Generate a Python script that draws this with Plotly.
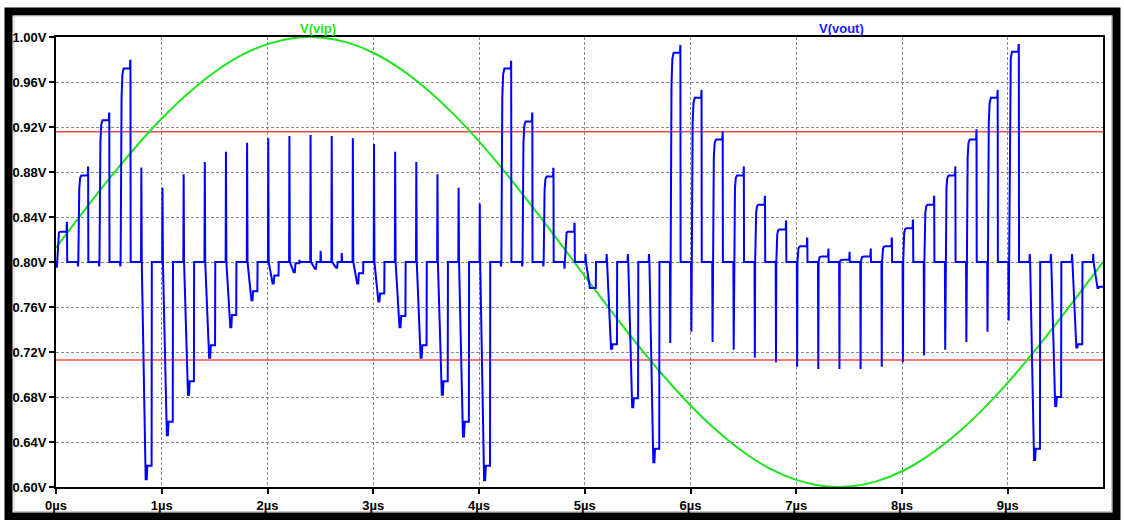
import plotly.graph_objects as go

# ---------------------------------------------------------------------------
# Waveform data (time in µs, voltages in V)
# ---------------------------------------------------------------------------

# V(vip): sinusoidal input, sampled every 0.25 µs
vip_time = [0.0, 0.25, 0.5, 0.75, 1.0, 1.25, 1.5, 1.75, 2.0, 2.25,
            2.5, 2.75, 3.0, 3.25, 3.5, 3.75, 4.0, 4.25, 4.5, 4.75,
            5.0, 5.25, 5.5, 5.75, 6.0, 6.25, 6.5, 6.75, 7.0, 7.25,
            7.5, 7.75, 8.0, 8.25, 8.5, 8.75, 9.0, 9.25, 9.5, 9.75, 9.9]
vip_volt = [0.8126, 0.8436, 0.8736, 0.9018, 0.9275, 0.9500, 0.9689, 0.9836, 0.9937, 0.9991,
            0.9996, 0.9952, 0.9860, 0.9721, 0.9541, 0.9323, 0.9072, 0.8794, 0.8497, 0.8188,
            0.7874, 0.7564, 0.7264, 0.6982, 0.6725, 0.6500, 0.6311, 0.6164, 0.6063, 0.6009,
            0.6004, 0.6048, 0.6140, 0.6279, 0.6459, 0.6677, 0.6928, 0.7206, 0.7503, 0.7812, 0.8000]

# V(vout): one residue pulse per 0.2 µs clock cycle, reset to 0.80 V in between
cycle_start = [0.0, 0.2, 0.4, 0.6, 0.8, 1.0, 1.2, 1.4, 1.6, 1.8,
               2.0, 2.2, 2.4, 2.6, 2.8, 3.0, 3.2, 3.4, 3.6, 3.8,
               4.0, 4.2, 4.4, 4.6, 4.8, 5.0, 5.2, 5.4, 5.6, 5.8,
               6.0, 6.2, 6.4, 6.6, 6.8, 7.0, 7.2, 7.4, 7.6, 7.8,
               8.0, 8.2, 8.4, 8.6, 8.8, 9.0, 9.2, 9.4, 9.6, 9.8]
# glitch value right at the clock edge
vout_kick = [0.795, 0.796, 0.796, 0.796, 0.884, 0.866, 0.878, 0.889, 0.898, 0.906,
             0.910, 0.912, 0.913, 0.912, 0.910, 0.905, 0.898, 0.889, 0.878, 0.866,
             0.852, 0.796, 0.796, 0.796, 0.794, 0.807, 0.807, 0.807, 0.807, 0.728,
             0.738, 0.729, 0.722, 0.715, 0.711, 0.707, 0.705, 0.705, 0.705, 0.707,
             0.711, 0.717, 0.722, 0.729, 0.738, 0.748, 0.807, 0.807, 0.807, 0.807]
# extreme value reached during the pulse
vout_peak = [0.827, 0.877, 0.926, 0.972, 0.607, 0.646, 0.682, 0.715, 0.742, 0.766,
             0.781, 0.791, 0.794, 0.795, 0.781, 0.765, 0.742, 0.715, 0.682, 0.645,
             0.606, 0.972, 0.925, 0.876, 0.827, 0.777, 0.723, 0.671, 0.622, 0.986,
             0.946, 0.909, 0.877, 0.851, 0.829, 0.814, 0.805, 0.802, 0.805, 0.814,
             0.830, 0.851, 0.877, 0.909, 0.946, 0.987, 0.624, 0.672, 0.724, 0.777]
# settled level at the end of the pulse
vout_settle = [0.827, 0.877, 0.926, 0.972, 0.619, 0.658, 0.694, 0.726, 0.753, 0.774,
               0.788, 0.799, 0.800, 0.800, 0.790, 0.772, 0.752, 0.726, 0.694, 0.658,
               0.619, 0.972, 0.925, 0.876, 0.827, 0.777, 0.727, 0.679, 0.634, 0.986,
               0.946, 0.909, 0.877, 0.851, 0.829, 0.814, 0.805, 0.802, 0.805, 0.814,
               0.830, 0.851, 0.877, 0.909, 0.946, 0.987, 0.634, 0.680, 0.727, 0.778]
# short glitch when the pulse ends
vout_tail = [0.835, 0.884, 0.932, 0.979, 0.619, 0.658, 0.694, 0.726, 0.753, 0.774,
             0.788, 0.802, 0.810, 0.808, 0.790, 0.772, 0.752, 0.726, 0.694, 0.658,
             0.619, 0.978, 0.932, 0.883, 0.834, 0.777, 0.727, 0.679, 0.634, 0.993,
             0.953, 0.916, 0.885, 0.858, 0.836, 0.821, 0.812, 0.809, 0.812, 0.821,
             0.837, 0.858, 0.885, 0.918, 0.953, 0.993, 0.634, 0.680, 0.727, 0.778]

baseline = 0.80          # reset level of the output
t_end = 9.9              # end of the transient run
limit_hi = 0.9158        # horizontal cursor levels
limit_lo = 0.7129

y_ticks = [0.60, 0.64, 0.68, 0.72, 0.76, 0.80, 0.84, 0.88, 0.92, 0.96, 1.00]
y_labels = ["0.60V", "0.64V", "0.68V", "0.72V", "0.76V", "0.80V",
            "0.84V", "0.88V", "0.92V", "0.96V", "1.00V"]
x_ticks = [0, 1, 2, 3, 4, 5, 6, 7, 8, 9]
x_labels = ["0µs", "1µs", "2µs", "3µs", "4µs", "5µs", "6µs", "7µs", "8µs", "9µs"]


def pulse(t0, kick, peak, settle, tail):
    """Piecewise-linear outline of one clock cycle of the residue output."""
    b = baseline
    if kick < b:
        # output steps up: glitch down, fast rise, settle, glitch at the end
        d = settle - b
        pts = [(0.000, b), (0.005, b), (0.008, kick), (0.011, b),
               (0.020, b + 0.85 * d), (0.028, b + 0.97 * d), (0.040, settle),
               (0.100, settle), (0.102, tail), (0.104, tail), (0.106, b)]
    else:
        # output steps down: glitch up, slewing fall, undershoot, settle
        pts = [(0.000, b), (0.004, b), (0.007, kick), (0.011, b),
               (0.048, peak), (0.058, peak), (0.064, settle),
               (0.100, settle), (0.102, tail), (0.104, settle), (0.106, b)]
    return [(t0 + dt, v) for dt, v in pts]


vout_t, vout_v = [], []
for i, t0 in enumerate(cycle_start):
    for t, v in pulse(t0, vout_kick[i], vout_peak[i], vout_settle[i], vout_tail[i]):
        if t <= t_end:
            vout_t.append(t)
            vout_v.append(v)
    if t0 + 0.2 <= t_end:
        vout_t.append(t0 + 0.2)
        vout_v.append(baseline)

GREEN = "#1ee61e"
BLUE = "#0000ff"
RED = "#ff4a4a"
FONT = "Liberation Sans, Arial, sans-serif"

fig = go.Figure()

# horizontal cursor levels spanning the whole run
for lvl in (limit_hi, limit_lo):
    fig.add_trace(go.Scatter(x=[0, t_end], y=[lvl, lvl], mode="lines",
                             line=dict(color=RED, width=1.5), hoverinfo="skip"))

fig.add_trace(go.Scatter(x=vip_time, y=vip_volt, mode="lines", name="V(vip)",
                         line=dict(color=GREEN, width=2, shape="spline", smoothing=1.0)))
fig.add_trace(go.Scatter(x=vout_t, y=vout_v, mode="lines", name="V(vout)",
                         line=dict(color=BLUE, width=2)))

# trace names above the plot
fig.add_annotation(text="V(vip)", x=0.25, y=1.0, xref="paper", yref="paper",
                   xanchor="center", yanchor="bottom", showarrow=False, yshift=-1,
                   font=dict(family=FONT, size=13, color=GREEN, weight="bold"))
fig.add_annotation(text="V(vout)", x=0.75, y=1.0, xref="paper", yref="paper",
                   xanchor="center", yanchor="bottom", showarrow=False, yshift=-1,
                   font=dict(family=FONT, size=13, color="#2020ff", weight="bold"))

# window frame around the whole pane
W, H = 1124, 520
L, R, T, B = 56, 21, 37, 33
pw, ph = W - L - R, H - T - B


def px(x):
    return (x - L) / pw


def py(y):
    return (H - B - y) / ph


fig.add_shape(type="rect", xref="paper", yref="paper", layer="below",
              x0=px(8.5), x1=px(1116.5), y0=py(516.5), y1=py(11.5),
              line=dict(color="black", width=8))
fig.add_shape(type="rect", xref="paper", yref="paper", layer="below",
              x0=px(14.0), x1=px(1111.5), y0=py(511.5), y1=py(16.0),
              line=dict(color="#c8c8c8", width=1))

axis_common = dict(
    showline=True, linecolor="black", linewidth=2, mirror=True,
    showgrid=True, gridcolor="#8a8a8a", gridwidth=1, griddash="3px,2px",
    ticks="outside", ticklen=5, tickwidth=2, tickcolor="black",
    tickfont=dict(family=FONT, size=13, color="black", weight="bold"),
    zeroline=False,
)

fig.update_xaxes(range=[0, t_end], tickvals=x_ticks, ticktext=x_labels, **axis_common)
fig.update_yaxes(range=[0.60, 1.00], tickvals=y_ticks, ticktext=y_labels, **axis_common)

fig.update_layout(
    width=W, height=H,
    margin=dict(l=L, r=R, t=T, b=B, autoexpand=False),
    paper_bgcolor="white", plot_bgcolor="white",
    showlegend=False,
)

fig.write_html("out.html", config={"displayModeBar": False})
